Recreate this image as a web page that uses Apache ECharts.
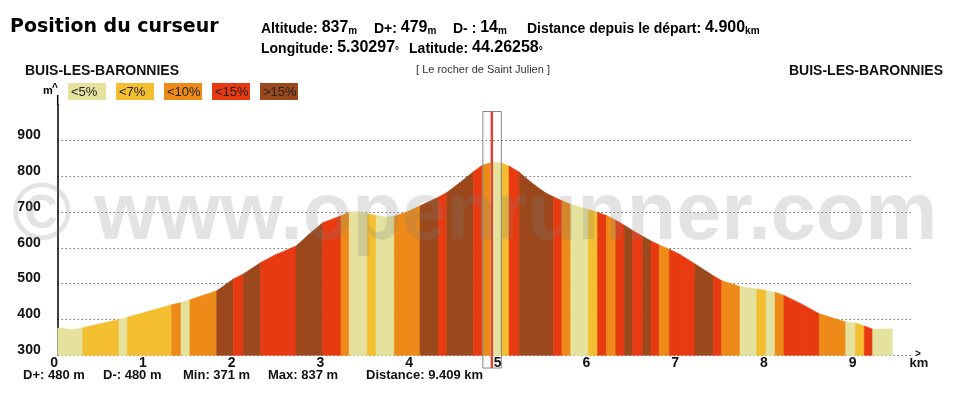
<!DOCTYPE html>
<html>
<head>
<meta charset="utf-8">
<script src="https://cdn.jsdelivr.net/npm/echarts@6/dist/echarts.min.js"></script>
<style>
html,body{margin:0;padding:0;background:#fff;}
#main{width:971px;height:397px;}
</style>
</head>
<body>
<div id="main"></div>
<script>
// profil : distance (km) / altitude (m) aux limites des tronçons
var distKm = [0, 0.048, 0.161, 0.282, 0.691, 0.785, 1.285, 1.390, 1.491, 1.793,
	1.980, 2.092, 2.289, 2.450, 2.687, 2.833, 2.988, 3.194, 3.287, 3.386,
	3.490, 3.589, 3.690, 3.795, 3.938, 4.085, 4.291, 4.386, 4.535, 4.685,
	4.787, 4.882, 4.998, 5.088, 5.204, 5.302, 5.404, 5.494, 5.587, 5.685,
	5.784, 5.888, 5.982, 6.086, 6.187, 6.291, 6.388, 6.482, 6.595, 6.689,
	6.782, 6.895, 7.016, 7.185, 7.391, 7.486, 7.692, 7.880, 7.985, 8.087,
	8.188, 8.369, 8.586, 8.884, 8.994, 9.093, 9.188, 9.409];
var altM = [376, 375, 371, 377, 400, 406, 441, 447, 455, 480,
	513, 527, 559, 580, 605, 638, 670, 689, 699, 701,
	695, 690, 686, 688, 700, 717, 741, 754, 782, 812,
	830, 837, 837, 828, 811, 790, 770, 754, 742, 731,
	721, 714, 707, 699, 690, 677, 663, 648, 632, 619,
	608, 596, 581, 555, 522, 508, 492, 485, 481, 476,
	467, 445, 416, 393, 390, 382, 373, 374];
// classe de pente de chaque tronçon (0:<5% 1:<7% 2:<10% 3:<15% 4:>15%)
var gradeCls = [0, 0, 0, 1, 0, 1, 2, 0, 2, 4,
	3, 4, 3, 3, 4, 4, 3, 2, 0, 0,
	1, 0, 0, 2, 2, 4, 3, 4, 4, 3,
	2, 0, 1, 3, 4, 4, 4, 4, 3, 2,
	0, 0, 1, 3, 2, 3, 4, 3, 4, 3,
	2, 3, 3, 4, 3, 2, 0, 1, 0, 2,
	3, 3, 2, 0, 1, 3, 0];
var gradeLabels = ['<5%', '<7%', '<10%', '<15%', '>15%'];
var gradeColors = ['#E4E29C', '#F3BF30', '#EE8A17', '#E83A10', '#9B481C'];
var xTicks = [0, 1, 2, 3, 4, 5, 6, 7, 8, 9];
var yTicks = [300, 400, 500, 600, 700, 800, 900];
var cursorKm = 4.9;
var statTexts = ['D+: 480 m', 'D-: 480 m', 'Min: 371 m', 'Max: 837 m', 'Distance: 9.409 km'];
var statX = [23, 103, 183, 268, 366];

var segData = [];
for (var i = 0; i < gradeCls.length; i++) {
	segData.push([distKm[i], altM[i], distKm[i + 1], altM[i + 1], gradeCls[i]]);
}

var FONT = '"Liberation Sans", Arial, sans-serif';

var dom = document.getElementById("main");
var myChart = echarts.init(dom, null, {renderer: 'canvas'});

option = {
	animation: false,
	grid: {
		left: 57.7,
		top: 104.4,
		width: 856,
		height: 250.9
	},
	xAxis: {
		type: 'value',
		min: 0,
		max: 9.65,
		interval: 1,
		axisLine: {show: false},
		axisTick: {show: false},
		splitLine: {show: false},
		axisLabel: {
			showMaxLabel: false,
			margin: 1,
			padding: [0, 7, 0, 0],
			color: '#111',
			fontWeight: 'bold',
			fontSize: 14,
			fontFamily: FONT,
			formatter: function (v) {
				return xTicks.indexOf(v) >= 0 ? String(v) : '';
			}
		}
	},
	yAxis: {
		type: 'value',
		min: 300,
		max: 1000,
		interval: 100,
		axisLine: {show: true, lineStyle: {color: '#000', width: 1.5}},
		axisTick: {show: false},
		splitLine: {
			show: true,
			showMinLine: true,
			showMaxLine: false,
			lineStyle: {color: '#333', width: 1, type: [1, 3]}
		},
		axisLabel: {
			margin: 17,
			verticalAlign: 'bottom',
			lineHeight: 10,
			color: '#111',
			fontWeight: 'bold',
			fontSize: 14,
			fontFamily: FONT,
			formatter: function (v) {
				return yTicks.indexOf(v) >= 0 ? String(v) : '';
			}
		}
	},
	series: [{
		type: 'custom',
		data: segData,
		encode: {x: [0, 2], y: [1, 3]},
		renderItem: function (params, api) {
			var x0 = api.value(0), y0 = api.value(1), x1 = api.value(2), y1 = api.value(3);
			var col = gradeColors[api.value(4)];
			var pts = [
				api.coord([x0, 300]),
				api.coord([x0, y0]),
				api.coord([x1, y1]),
				api.coord([x1, 300])
			];
			return {
				type: 'polygon',
				shape: {points: pts},
				style: {fill: col, stroke: col, lineWidth: 0.6}
			};
		}
	}]
};

myChart.setOption(option);

var cx = myChart.convertToPixel({xAxisIndex: 0}, cursorKm);

var g = [];
// titre et infos curseur
g.push({
	type: 'text', left: 10, top: 18,
	style: {text: 'Position du curseur', font: 'bold 19px "DejaVu Sans", sans-serif', fill: '#000'}
});
var lab = {fontSize: 14, fontWeight: 'bold', fontFamily: FONT, fill: '#000', verticalAlign: 'bottom'};
var val = {fontSize: 16, fontWeight: 'bold', fontFamily: FONT, fill: '#000', verticalAlign: 'bottom'};
var uni = {fontSize: 10, fontWeight: 'bold', fontFamily: FONT, fill: '#000', verticalAlign: 'bottom'};
g.push({
	type: 'text', x: 261, y: 36,
	style: {
		text: '{l|Altitude: }{v|837}{u|m}     {l|D+: }{v|479}{u|m}     {l|D- : }{v|14}{u|m}      {l|Distance depuis le départ: }{v|4.900}{u|km}',
		verticalAlign: 'bottom',
		rich: {l: lab, v: val, u: uni}
	}
});
g.push({
	type: 'text', x: 261, y: 56,
	style: {
		text: '{l|Longitude: }{v|5.30297}{u|°}   {l|Latitude: }{v|44.26258}{u|°}',
		verticalAlign: 'bottom',
		rich: {l: lab, v: val, u: uni}
	}
});
// départ / arrivée
g.push({
	type: 'text', x: 25, y: 71,
	style: {text: 'BUIS-LES-BARONNIES', font: 'bold 14px ' + FONT, fill: '#111', verticalAlign: 'middle'}
});
g.push({
	type: 'text', x: 943, y: 71,
	style: {text: 'BUIS-LES-BARONNIES', font: 'bold 14px ' + FONT, fill: '#111', align: 'right', verticalAlign: 'middle'}
});
g.push({
	type: 'text', x: 483, y: 70,
	style: {text: '[ Le rocher de Saint Julien ]', font: '11px ' + FONT, fill: '#333', align: 'center', verticalAlign: 'middle'}
});
// légende
g.push({
	type: 'text', x: 43, y: 91,
	style: {text: 'm', font: 'bold 11px ' + FONT, fill: '#000', verticalAlign: 'middle'}
});
g.push({
	type: 'text', x: 52, y: 88,
	style: {text: '^', font: 'bold 10px ' + FONT, fill: '#000', verticalAlign: 'middle'}
});
g.push({
	type: 'line', shape: {x1: 57.7, y1: 95, x2: 57.7, y2: 105},
	style: {stroke: '#000', lineWidth: 1.5}
});
for (var k = 0; k < gradeLabels.length; k++) {
	g.push({
		type: 'rect', shape: {x: 68 + k * 48, y: 83, width: 38, height: 17},
		style: {fill: gradeColors[k]}
	});
	g.push({
		type: 'text', x: 71 + k * 48, y: 92,
		style: {text: gradeLabels[k], font: '13px ' + FONT, fill: '#222', verticalAlign: 'middle'}
	});
}
// stats bas
for (var s = 0; s < statTexts.length; s++) {
	g.push({
		type: 'text', x: statX[s], y: 375,
		style: {text: statTexts[s], font: 'bold 13px ' + FONT, fill: '#111', verticalAlign: 'middle'}
	});
}
// fleche km
g.push({
	type: 'text', x: 918, y: 354,
	style: {text: '>', font: 'bold 10px ' + FONT, fill: '#111', align: 'center', verticalAlign: 'middle'}
});
g.push({
	type: 'text', x: 919, y: 363,
	style: {text: 'km', font: 'bold 13px ' + FONT, fill: '#111', align: 'center', verticalAlign: 'middle'}
});
// filigrane
g.push({
	type: 'text', x: 12, y: 217, z: 100,
	style: {text: '© www.openrunner.com', font: 'bold 81px ' + FONT, fill: 'rgba(128,128,128,0.22)', verticalAlign: 'middle'}
});
// curseur
g.push({
	type: 'rect', z: 101, shape: {x: cx - 9.5, y: 111.5, width: 18.5, height: 256.5},
	style: {fill: 'none', stroke: '#888', lineWidth: 1}
});
g.push({
	type: 'line', z: 102, shape: {x1: cx - 0.5, y1: 111.5, x2: cx - 0.5, y2: 368},
	style: {stroke: '#D8463C', lineWidth: 2.5}
});

myChart.setOption({graphic: g});
</script>
</body>
</html>
